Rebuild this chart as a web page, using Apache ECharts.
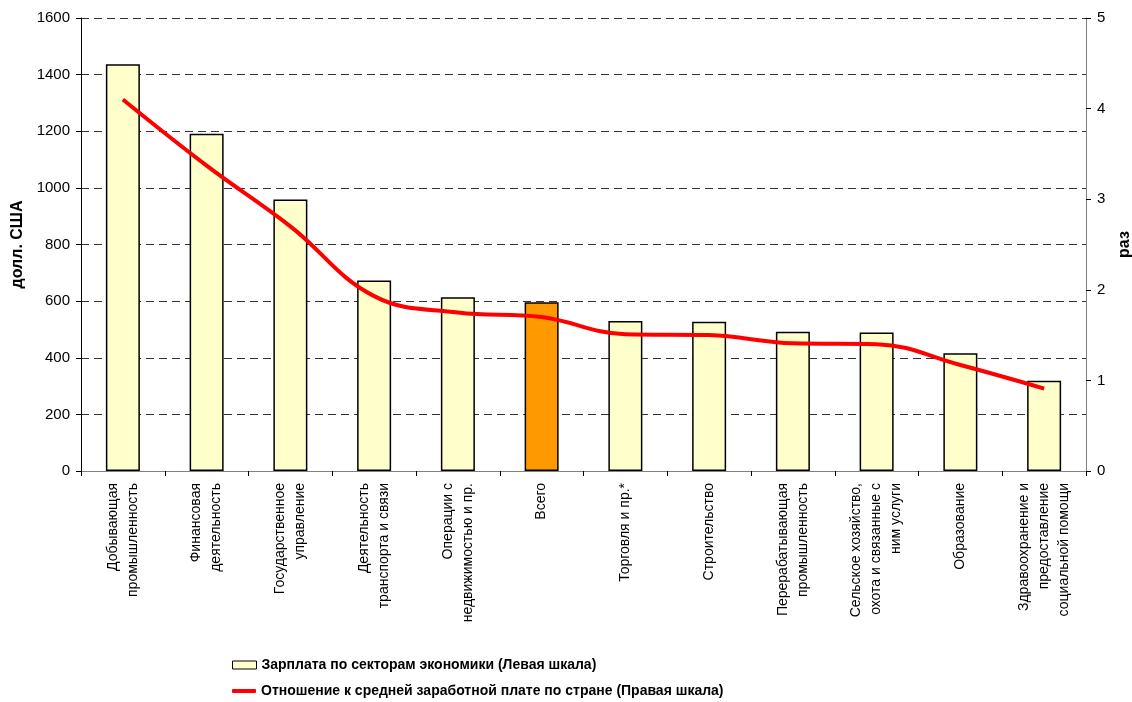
<!DOCTYPE html>
<html>
<head>
<meta charset="utf-8">
<script src="https://cdn.jsdelivr.net/npm/echarts@6/dist/echarts.min.js"></script>
<style>
  html, body { margin: 0; padding: 0; background: #fff; }
  #main { width: 1132px; height: 702px; }
</style>
</head>
<body>
<div id="main"></div>
<script>
// отрасли
var sectors = [
    'Добывающая\nпромышленность',
    'Финансовая\nдеятельность',
    'Государственное\nуправление',
    'Деятельность\nтранспорта и связи',
    'Операции с\nнедвижимостью и пр.',
    'Всего',
    'Торговля и пр.*',
    'Строительство',
    'Перерабатывающая\nпромышленность',
    'Сельское хозяйство,\nохота и связанные с\nним услуги',
    'Образование',
    'Здравоохранение и\nпредоставление\nсоциальной помощи'
];
// зарплата, долл. США (левая шкала)
var wages = [1437, 1191, 959, 673, 614, 596, 530, 527, 492, 489, 416, 319];
// отношение к средней (правая шкала)
var ratio = [4.10, 3.37, 2.70, 1.93, 1.75, 1.70, 1.51, 1.50, 1.41, 1.40, 1.17, 0.91];
var leftTicks = [0, 1600, 200];
var rightTicks = [0, 5, 1];

var barName = 'Зарплата по секторам экономики (Левая шкала)';
var lineName = 'Отношение к средней заработной плате по стране (Правая шкала)';
var font = 'Liberation Sans, Arial, sans-serif';

var barData = wages.map(function (v, i) {
    if (sectors[i] === 'Всего') {
        return { value: v, itemStyle: { color: '#FF9900' } };
    }
    return v;
});

var legendText = { fontFamily: font, fontSize: 14, fontWeight: 'bold', color: '#000' };

var myChart = echarts.init(document.getElementById('main'));
myChart.setOption({
    backgroundColor: '#FFFFFF',
    animation: false,
    textStyle: { fontFamily: font },
    grid: { left: 81, right: 46, top: 18, bottom: 231, containLabel: false, outerBoundsMode: 'none' },
    legend: [
        {
            left: 227,
            top: 653,
            itemWidth: 24,
            itemHeight: 8,
            textStyle: legendText,
            data: [{ name: barName, icon: 'rect', itemStyle: { color: '#FFFFCC', borderColor: '#000', borderWidth: 1 } }]
        },
        {
            left: 227,
            top: 679,
            itemWidth: 24,
            itemHeight: 4,
            textStyle: legendText,
            data: [{ name: lineName, icon: 'roundRect', itemStyle: { color: '#FF0000' } }]
        }
    ],
    xAxis: {
        type: 'category',
        data: sectors,
        axisLine: { lineStyle: { color: '#808080', width: 1 } },
        axisTick: { show: true, length: 5, lineStyle: { color: '#000' } },
        axisLabel: {
            interval: 0,
            rotate: 90,
            margin: 12,
            fontSize: 14,
            lineHeight: 20,
            color: '#000',
            fontFamily: font
        }
    },
    yAxis: [
        {
            type: 'value',
            min: leftTicks[0],
            max: leftTicks[1],
            interval: leftTicks[2],
            name: 'долл. США',
            nameLocation: 'middle',
            nameRotate: 90,
            nameGap: 55,
            nameTextStyle: { fontSize: 16, fontWeight: 'bold', color: '#000', fontFamily: font },
            axisLine: { show: true, lineStyle: { color: '#000' } },
            axisTick: { show: true, length: 5, lineStyle: { color: '#000' } },
            axisLabel: { fontSize: 15, color: '#000', margin: 11, fontFamily: font, formatter: function (v) { return String(v); } },
            splitLine: { show: true, lineStyle: { color: '#333', type: [8, 5], width: 1 } }
        },
        {
            type: 'value',
            min: rightTicks[0],
            max: rightTicks[1],
            interval: rightTicks[2],
            name: 'раз',
            nameLocation: 'middle',
            nameRotate: 90,
            nameGap: 29,
            nameTextStyle: { fontSize: 16, fontWeight: 'bold', color: '#000', fontFamily: font },
            axisLine: { show: true, lineStyle: { color: '#808080' } },
            axisTick: { show: true, length: 5, lineStyle: { color: '#000' } },
            axisLabel: { fontSize: 15, color: '#000', margin: 11, fontFamily: font, formatter: function (v) { return String(v); } },
            splitLine: { show: false }
        }
    ],
    series: [
        {
            name: barName,
            type: 'bar',
            yAxisIndex: 0,
            barWidth: 34,
            data: barData,
            itemStyle: { color: '#FFFFCC', borderColor: '#000', borderWidth: 1.5 }
        },
        {
            name: lineName,
            type: 'line',
            yAxisIndex: 1,
            data: ratio,
            smooth: 0.4,
            symbol: 'none',
            color: '#FF0000',
            lineStyle: { color: '#FF0000', width: 4 }
        }
    ]
});
</script>
</body>
</html>
